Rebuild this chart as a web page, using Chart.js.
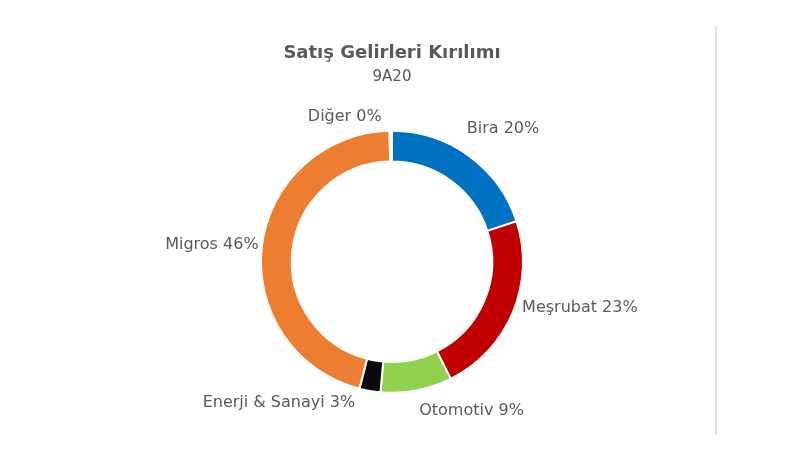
<!DOCTYPE html>
<html>
<head>
<meta charset="utf-8">
<script src="https://cdn.jsdelivr.net/npm/chart.js@4/dist/chart.umd.min.js"></script>
<style>
  html, body { margin: 0; padding: 0; background: #fff; }
  #wrap { width: 800px; height: 463px; }
</style>
</head>
<body>
<div id="wrap"><canvas id="canvas"></canvas></div>
<script>
// Datos
const categorias = ["Bira", "Meşrubat", "Otomotiv", "Enerji & Sanayi", "Migros", "Diğer"];
const valores = [20.0, 22.6, 8.8, 2.6, 45.7, 0.3];
const colores = ["#0070C0", "#C00000", "#92D050", "#0a0a0a", "#ED7D31", "#ffffff"];

// Desplazamiento de cada etiqueta respecto al borde exterior del arco (x, y)
const desplazamientos = [[34, -27], [67, -4], [55, 20], [-91, 12], [-50, -2], [-46, -14]];

// Etiquetas fuera del anillo + línea vertical gris a la derecha
const pluginEtiquetas = {
    id: "etiquetas",
    afterDraw(chart) {
        const ctx = chart.ctx;
        const arcos = chart.getDatasetMeta(0).data;
        ctx.save();
        ctx.font = "16px 'DejaVu Sans'";
        ctx.fillStyle = "#595959";
        ctx.textAlign = "center";
        ctx.textBaseline = "middle";
        arcos.forEach((arco, i) => {
            const p = arco.getProps(["x", "y", "startAngle", "endAngle", "outerRadius"], true);
            const medio = (p.startAngle + p.endAngle) / 2;
            const x = p.x + Math.cos(medio) * p.outerRadius + desplazamientos[i][0];
            const y = p.y + Math.sin(medio) * p.outerRadius + desplazamientos[i][1];
            ctx.fillText(categorias[i] + " " + Math.round(valores[i]) + "%", x, y);
        });
        // línea separadora
        ctx.strokeStyle = "#e3e3e3";
        ctx.lineWidth = 2;
        ctx.beginPath();
        ctx.moveTo(716, 26);
        ctx.lineTo(716, 435);
        ctx.stroke();
        ctx.restore();
    }
};

const grafica = new Chart(document.getElementById("canvas"), {
    type: "doughnut",
    data: {
        labels: categorias,
        datasets: [{
            data: valores,
            backgroundColor: colores,
            borderColor: "#ffffff",
            borderWidth: 2,
            hoverOffset: 0,
            radius: 131,
            cutout: "76.5%"
        }]
    },
    options: {
        responsive: true,
        maintainAspectRatio: false,
        animation: false,
        layout: { padding: { top: 43, bottom: 70, left: 150, right: 166 } },
        plugins: {
            legend: { display: false },
            tooltip: { enabled: false },
            title: {
                display: true,
                text: "Satış Gelirleri Kırılımı",
                color: "#595959",
                font: { family: "'DejaVu Sans'", size: 18, weight: "bold" },
                padding: { top: 0, bottom: 4 }
            },
            subtitle: {
                display: true,
                text: "9A20",
                color: "#595959",
                font: { family: "'DejaVu Sans'", size: 15 },
                padding: { top: 0, bottom: 44 }
            }
        }
    },
    plugins: [pluginEtiquetas]
});
</script>
</body>
</html>
